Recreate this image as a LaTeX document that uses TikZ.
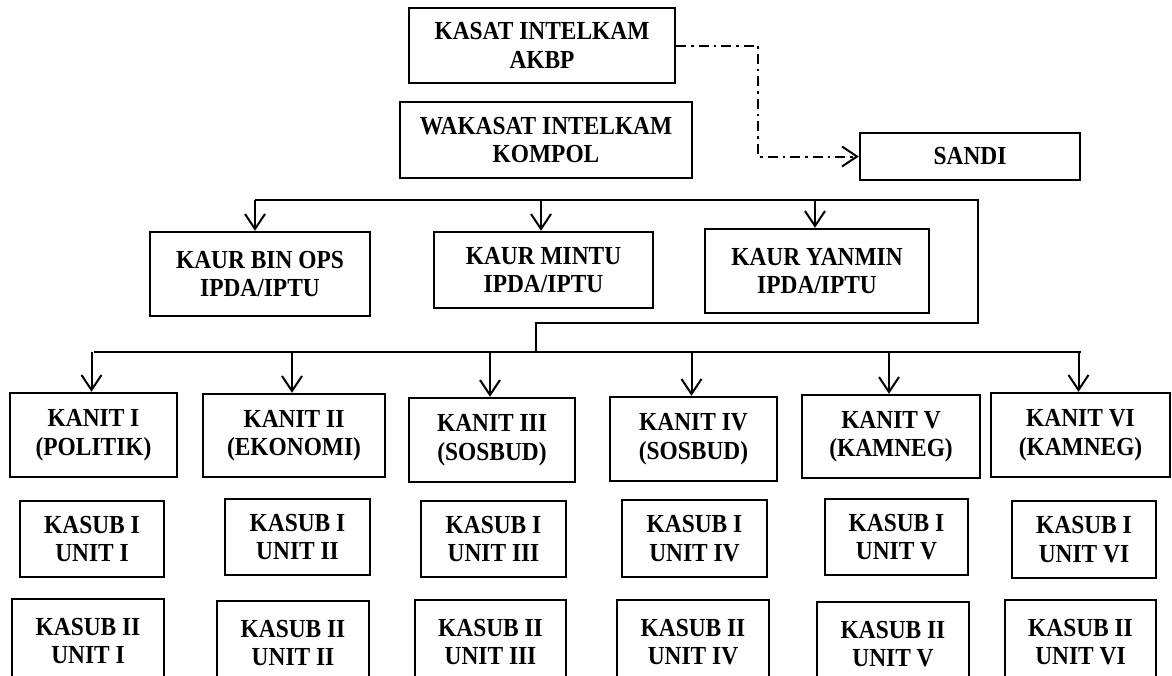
\documentclass[tikz,border=0pt]{standalone}
\usepackage{fontspec}
\setmainfont[FakeStretch=0.9]{Liberation Serif}
\usetikzlibrary{arrows.meta}
\tikzset{
  box/.style={draw, line width=2.4pt, inner sep=0pt, align=center,
    font=\bfseries\fontsize{26}{28.5}\selectfont},
  conn/.style={line width=2pt},
  arr/.style={line width=2pt, -{Straight Barb[length=15pt,width=20pt,line width=2pt]}},
  dd/.style={line width=2pt, dash pattern=on 10pt off 5pt on 2.5pt off 5pt,
    -{Straight Barb[length=15pt,width=20pt,line width=2pt,sep=0pt]}}
}
\begin{document}
\begin{tikzpicture}[x=1pt,y=-1pt]
\useasboundingbox (0,0) rectangle (1172,675);
\clip (0,0) rectangle (1172,675);
% top
\node[box, minimum width=266pt, minimum height=75pt] (kasat) at (542,45.5) {KASAT INTELKAM\\AKBP};
\node[box, minimum width=292pt, minimum height=76pt] (wakasat) at (546,140) {WAKASAT INTELKAM\\KOMPOL};
\node[box, minimum width=220pt, minimum height=47pt] (sandi) at (970,156.5) {SANDI};
% kaur
\node[box, minimum width=220pt, minimum height=84pt] (binops) at (260,274) {KAUR BIN OPS\\IPDA/IPTU};
\node[box, minimum width=219pt, minimum height=76pt] (mintu) at (543.5,270) {KAUR MINTU\\IPDA/IPTU};
\node[box, minimum width=224pt, minimum height=84pt] (yanmin) at (817,271) {KAUR YANMIN\\IPDA/IPTU};
% kanit
\node[box, minimum width=167pt, minimum height=84pt] (k1) at (93.5,435) {KANIT I\\(POLITIK)};
\node[box, minimum width=182pt, minimum height=83pt] (k2) at (294,435.5) {KANIT II\\(EKONOMI)};
\node[box, minimum width=166pt, minimum height=84pt] (k3) at (492,440) {KANIT III\\(SOSBUD)};
\node[box, minimum width=167pt, minimum height=84pt] (k4) at (693.5,439) {KANIT IV\\(SOSBUD)};
\node[box, minimum width=178pt, minimum height=83pt] (k5) at (891,436.5) {KANIT V\\(KAMNEG)};
\node[box, minimum width=179pt, minimum height=84pt] (k6) at (1080.5,435) {KANIT VI\\(KAMNEG)};
% kasub I
\node[box, minimum width=144pt, minimum height=76pt] (s1a) at (92,539) {KASUB I\\UNIT I};
\node[box, minimum width=145pt, minimum height=76pt] (s2a) at (297.5,537) {KASUB I\\UNIT II};
\node[box, minimum width=145pt, minimum height=76pt] (s3a) at (493.5,539) {KASUB I\\UNIT III};
\node[box, minimum width=145pt, minimum height=77pt] (s4a) at (694.5,538.5) {KASUB I\\UNIT IV};
\node[box, minimum width=143pt, minimum height=76pt] (s5a) at (896.5,537) {KASUB I\\UNIT V};
\node[box, minimum width=144pt, minimum height=77pt] (s6a) at (1084,539.5) {KASUB I\\UNIT VI};
% kasub II
\node[box, minimum width=152pt, minimum height=84pt] (s1b) at (88,641) {KASUB II\\UNIT I};
\node[box, minimum width=152pt, minimum height=84pt] (s2b) at (293,643) {KASUB II\\UNIT II};
\node[box, minimum width=151pt, minimum height=84pt] (s3b) at (490.5,642) {KASUB II\\UNIT III};
\node[box, minimum width=152pt, minimum height=84pt] (s4b) at (693,642) {KASUB II\\UNIT IV};
\node[box, minimum width=152pt, minimum height=84pt] (s5b) at (893,644) {KASUB II\\UNIT V};
\node[box, minimum width=151pt, minimum height=84pt] (s6b) at (1080.5,642) {KASUB II\\UNIT VI};
% coordinates
\coordinate (busT) at (0,200);
\coordinate (busK) at (0,352);
\coordinate (tr) at (978,200);
\coordinate (jn) at (536,323);
\coordinate (ddx) at (758,0);
% dash-dot to sandi
\draw[dd] (kasat.east) -| (ddx |- sandi.west) -- (sandi.west);
% top bus
\draw[conn] ([xshift=-5pt]binops.north |- busT) -- (tr) |- (jn) -- (jn |- busK);
\draw[arr] ([xshift=-5pt]binops.north |- busT) -- ([xshift=-5pt]binops.north);
\draw[arr] ([xshift=-2.5pt]mintu.north |- busT) -- ([xshift=-2.5pt]mintu.north);
\draw[arr] ([xshift=-2pt]yanmin.north |- busT) -- ([xshift=-2pt]yanmin.north);
% kanit bus
\draw[conn] (k1.north |- busK) -- (k6.north |- busK);
\foreach \n in {k1,k2,k3,k4,k5,k6}
  \draw[arr] ([xshift=-2pt]\n.north |- busK) -- ([xshift=-2pt]\n.north);
\end{tikzpicture}
\end{document}
